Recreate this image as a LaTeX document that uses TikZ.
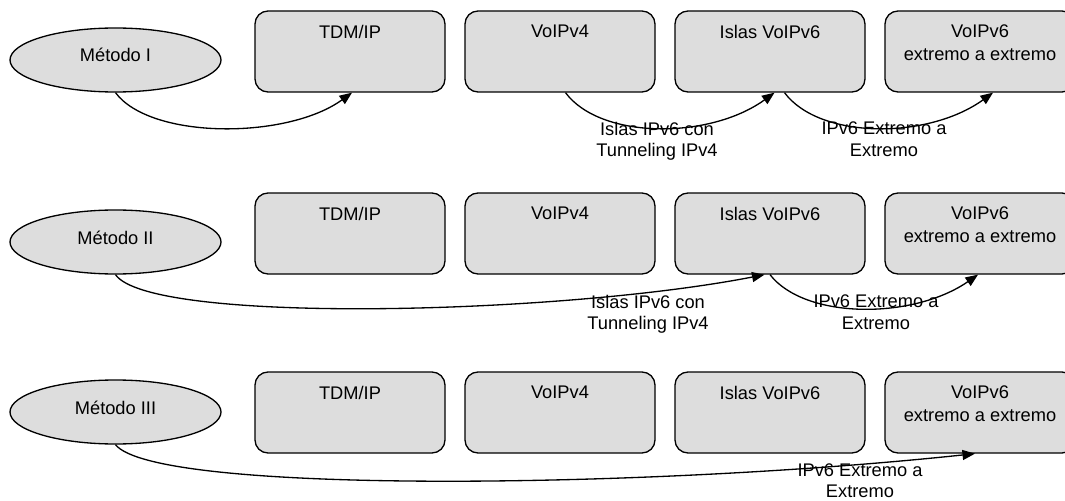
\documentclass[tikz,border=0pt]{standalone}
\usepackage{fontspec}
\setmainfont{Liberation Sans}
\usetikzlibrary{positioning,shapes.geometric,arrows.meta}
\definecolor{grisclaro}{HTML}{DDDDDD}

\begin{document}
\begin{tikzpicture}[
	font=\fontsize{10.4}{13}\selectfont,
	caja/.style={draw, line width=0.75pt, fill=grisclaro, rounded corners=0.26cm, minimum width=3.8cm, minimum height=1.62cm, inner sep=0pt},
	metodo/.style={draw, ellipse, line width=0.75pt, fill=grisclaro, minimum width=4.22cm, minimum height=1.28cm, inner sep=0pt},
	texto/.style={inner sep=0pt, align=center},
	flecha/.style={line width=0.75pt, -{Triangle[length=0.25cm,width=0.2cm]}},
	etiq/.style={inner sep=0pt, align=center, anchor=north, font=\fontsize{10.4}{12.2}\selectfont}
]
	
	\useasboundingbox (0,0) rectangle (21.3,-10.02);
	
	% fila 1
	\node [metodo] (m1)      at ( 2.31,-1.20) {};
	\node [caja]   (tdm1)    at ( 7.00,-1.03) {};
	\node [caja]   (voip41)  at (11.20,-1.03) {};
	\node [caja]   (islas1)  at (15.40,-1.03) {};
	\node [caja]   (ext1)    at (19.60,-1.03) {};
	
	% fila 2
	\node [metodo] (m2)      at ( 2.31,-4.84) {};
	\node [caja]   (tdm2)    at ( 7.00,-4.67) {};
	\node [caja]   (voip42)  at (11.20,-4.67) {};
	\node [caja]   (islas2)  at (15.40,-4.67) {};
	\node [caja]   (ext2)    at (19.60,-4.67) {};
	
	% fila 3
	\node [metodo] (m3)      at ( 2.31,-8.24) {};
	\node [caja]   (tdm3)    at ( 7.00,-8.25) {};
	\node [caja]   (voip43)  at (11.20,-8.25) {};
	\node [caja]   (islas3)  at (15.40,-8.25) {};
	\node [caja]   (ext3)    at (19.60,-8.25) {};
	
	% textos
	\node [texto, anchor=base]          (m1t)     at ([yshift=-0.04cm]m1.center) {Método I};
	\node [texto, anchor=base]          (m2t)     at ([yshift=-0.04cm]m2.center) {Método II};
	\node [texto, anchor=base]          (m3t)     at ([yshift=-0.04cm]m3.center) {Método III};
	
	\node [texto, below=0.29cm of tdm1.north]    (tdm1t)    {TDM/IP};
	\node [texto, below=0.29cm of voip41.north]  (voip41t)  {VoIPv4};
	\node [texto, below=0.29cm of islas1.north]  (islas1t)  {Islas VoIPv6};
	\node [texto, below=0.29cm of ext1.north]    (ext1t)    {VoIPv6\\extremo a extremo};
	\node [texto, below=0.29cm of tdm2.north]    (tdm2t)    {TDM/IP};
	\node [texto, below=0.29cm of voip42.north]  (voip42t)  {VoIPv4};
	\node [texto, below=0.29cm of islas2.north]  (islas2t)  {Islas VoIPv6};
	\node [texto, below=0.29cm of ext2.north]    (ext2t)    {VoIPv6\\extremo a extremo};
	\node [texto, below=0.29cm of tdm3.north]    (tdm3t)    {TDM/IP};
	\node [texto, below=0.29cm of voip43.north]  (voip43t)  {VoIPv4};
	\node [texto, below=0.29cm of islas3.north]  (islas3t)  {Islas VoIPv6};
	\node [texto, below=0.29cm of ext3.north]    (ext3t)    {VoIPv6\\extremo a extremo};
	
	% flechas
	\draw [flecha] (m1.south)                  .. controls +(0.7,-0.94) and +(-1.3,-0.94) .. ([xshift=0.04cm]tdm1.south);
	\draw [flecha] ([xshift=0.11cm]voip41.south) .. controls +(0.7,-0.94) and +(-1.3,-0.94) .. ([xshift=0.09cm]islas1.south);
	\draw [flecha] ([xshift=0.29cm]islas1.south) .. controls +(0.7,-0.94) and +(-1.3,-0.94) .. ([xshift=0.26cm]ext1.south);
	
	\draw [flecha] (m2.south)                  .. controls +(0.7,-1.0)  and +(-4.1,-0.8)  .. ([xshift=-0.11cm]islas2.south);
	\draw [flecha] (islas2.south)              .. controls +(0.7,-0.9)  and +(-1.3,-0.9)  .. ([xshift=-0.04cm]ext2.south);
	
	\draw [flecha] (m3.south)                  .. controls +(0.8,-1.0)  and +(-6.6,-0.7)  .. ([xshift=-0.1cm]ext3.south);
	
	% etiquetas
	\node [etiq] (lab1a) at (13.14,-2.43) {Islas IPv6 con\\Tunneling IPv4};
	\node [etiq] (lab1b) at (17.68,-2.43) {IPv6 Extremo a\\Extremo};
	\node [etiq] (lab2a) at (12.96,-5.89) {Islas IPv6 con\\Tunneling IPv4};
	\node [etiq] (lab2b) at (17.52,-5.89) {IPv6 Extremo a\\Extremo};
	\node [etiq] (lab3)  at (17.20,-9.26) {IPv6 Extremo a\\Extremo};
	
\end{tikzpicture}
\end{document}
